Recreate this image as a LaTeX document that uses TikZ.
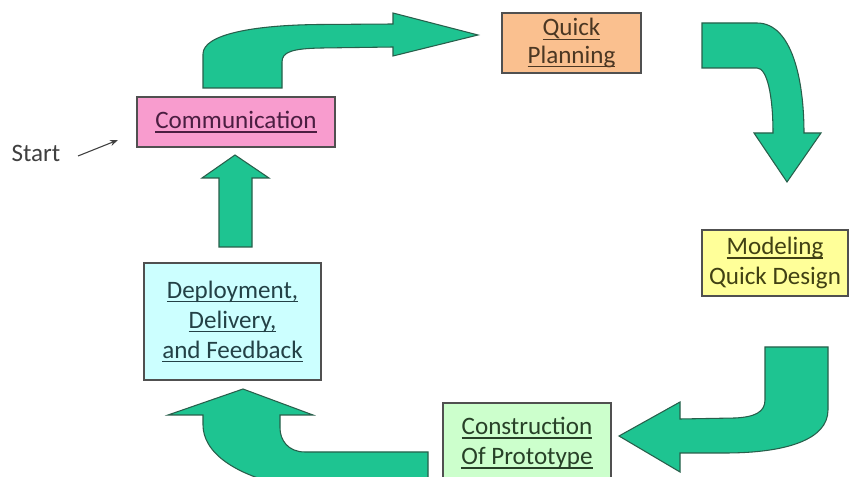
\documentclass[tikz,border=0pt]{standalone}
\usepackage{fontspec}
\setmainfont{Carlito}
\usetikzlibrary{arrows.meta}
\definecolor{arrowgreen}{RGB}{30,196,145}
\definecolor{arrowline}{RGB}{40,95,75}
\definecolor{boxline}{RGB}{80,80,80}
\definecolor{planfill}{RGB}{250,192,143}
\definecolor{commfill}{RGB}{248,156,206}
\definecolor{modelfill}{RGB}{255,255,153}
\definecolor{constrfill}{RGB}{204,255,204}
\definecolor{deployfill}{RGB}{204,255,255}
\definecolor{plantext}{RGB}{75,55,35}
\definecolor{commtext}{RGB}{75,30,65}
\definecolor{modeltext}{RGB}{65,65,20}
\definecolor{constrtext}{RGB}{40,65,40}
\definecolor{deploytext}{RGB}{35,65,70}
\newcommand\ulx[1]{\setbox0\hbox{#1}\rlap{\rule[-0.17em]{\wd0}{0.065em}}\box0}
\begin{document}
\begin{tikzpicture}[x=0.75pt,y=-0.75pt,
  box/.style={draw=boxline, line width=1.1pt, align=center, inner sep=0pt,
    font=\fontsize{18.8}{22.5}\selectfont},
  blockarrow/.style={fill=arrowgreen, draw=arrowline, line width=0.8pt, line join=miter},
  startline/.style={draw=black!75, line width=0.8pt, -{Stealth[length=6pt,width=4.5pt]}}]
\clip (0,0) rectangle (851,477);
\fill[white] (0,0) rectangle (851,477);

% boxes
\node[box, fill=planfill, text=plantext, minimum width=104.25pt, minimum height=45pt,
  font=\fontsize{18.8}{20.5}\selectfont] (plan) at (571.5,43) {\ulx{Quick}\\\ulx{Planning}};
\node[box, fill=commfill, text=commtext, minimum width=148.5pt, minimum height=37.5pt] (comm) at (236,122) {\ulx{Communication}};
\node[box, fill=modelfill, text=modeltext, minimum width=109.5pt, minimum height=49.5pt] (model) at (775,263) {\ulx{Modeling}\\Quick Design};
\node[box, fill=constrfill, text=constrtext, minimum width=126pt, minimum height=60pt] (constr) at (527,443) {\ulx{Construction}\\\ulx{Of Prototype}};
\node[box, fill=deployfill, text=deploytext, minimum width=132.75pt, minimum height=87.75pt] (deploy) at (232.5,321.5) {\ulx{Deployment,}\\\ulx{Delivery,}\\\ulx{and Feedback}};

% start
\node[font=\fontsize{18.8}{22}\selectfont, text=black!75, inner sep=0pt] (start) at (36,153) {Start};
\coordinate (s0) at (78,156);
\coordinate (s1) at (118,140);
\draw[startline] (s0) -- (s1);

% arrow communication -> quick planning
\draw[blockarrow] (203,88) -- (203,54) .. controls (203,34) and (255,25) .. (320,24.5) -- (393,24)
  -- (393,13) -- (478,35) -- (393,56) -- (393,47) -- (322,48)
  .. controls (292,48.5) and (282,52) .. (282,62) -- (282,88) -- cycle;

% arrow quick planning -> modeling
\draw[blockarrow] (702,23) -- (757,23) .. controls (792,23) and (804,80) .. (804,133)
  -- (821,133) -- (787,182) -- (754,133) -- (773,133)
  .. controls (773,95) and (767,68) .. (757,68) -- (702,68) -- cycle;

% arrow modeling -> construction
\draw[blockarrow] (765,347) -- (828,347) -- (828,410) .. controls (828,440) and (785,453) .. (725,453)
  -- (680,453) -- (680,472) -- (619,436) -- (680,402) -- (680,419) -- (735,418)
  .. controls (755,417) and (765,412) .. (765,400) -- cycle;

% arrow construction -> deployment
\draw[blockarrow] (428,452) -- (305,452) .. controls (288,452) and (280,440) .. (280,428)
  -- (280,415) -- (313,415) -- (243,389) -- (168,415) -- (203,415) -- (203,425)
  .. controls (203,450) and (230,480) .. (320,492) -- (428,495) -- cycle;

% arrow deployment -> communication
\draw[blockarrow] (219,247) -- (219,178) -- (202,178) -- (235,155) -- (269,178) -- (252,178) -- (252,247) -- cycle;
\end{tikzpicture}
\end{document}
